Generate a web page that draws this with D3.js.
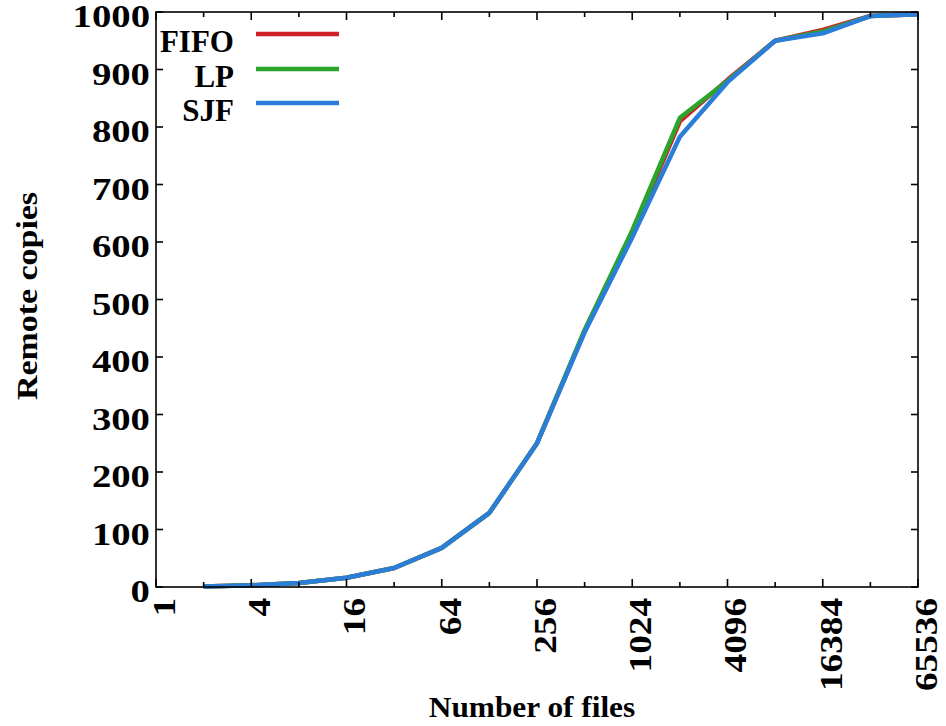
<!DOCTYPE html>
<html>
<head>
<meta charset="utf-8">
<script src="https://cdn.jsdelivr.net/npm/d3@7"></script>
<style>
  html, body { margin: 0; padding: 0; background: #fff; }
  svg { display: block; }
  text { font-family: "Liberation Serif", "Times New Roman", serif; font-weight: bold; fill: #000; }
</style>
</head>
<body>
<svg id="chart" width="946" height="726"></svg>
<script>
// Number of files (powers of two) and remote copies per scheduling policy
const files = [2, 4, 8, 16, 32, 64, 128, 256, 512, 1024, 2048, 4096, 8192, 16384, 32768, 65536];
const fifo  = [1, 3, 7, 16, 33, 68, 129, 250, 445, 615, 810, 882, 950, 969, 993, 996];
const lp    = [1, 3, 7, 16, 33, 68, 129, 250, 447, 620, 816, 880, 950, 966, 993, 996];
const sjf   = [1, 3, 7, 16, 33, 68, 129, 250, 443, 608, 783, 878, 950, 963, 993, 996];

const seriesNames  = ["FIFO", "LP", "SJF"];
const seriesColors = ["#d0202a", "#2aa52a", "#2b7ed8"];
const seriesValues = [fifo, lp, sjf];

const xMajorTicks = [1, 4, 16, 64, 256, 1024, 4096, 16384, 65536];
const xMinorTicks = [2, 8, 32, 128, 512, 2048, 8192, 32768];
const yTicks = [0, 100, 200, 300, 400, 500, 600, 700, 800, 900, 1000];

const svg = d3.select("#chart");
const plotLeft = 156, plotRight = 918, plotTop = 12, plotBottom = 587;

const x = d3.scaleLog().base(2).domain([1, 65536]).range([plotLeft, plotRight]);
const y = d3.scaleLinear().domain([0, 1000]).range([plotBottom, plotTop]);

// Curves
const line = d3.line().x(d => x(d[0])).y(d => y(d[1]));
seriesValues.forEach((vals, i) => {
  svg.append("path")
    .datum(files.map((f, j) => [f, vals[j]]))
    .attr("d", line)
    .attr("fill", "none")
    .attr("stroke", seriesColors[i])
    .attr("stroke-width", 4.5)
    .attr("stroke-linejoin", "round");
});

// Frame
svg.append("rect")
  .attr("x", plotLeft).attr("y", plotTop)
  .attr("width", plotRight - plotLeft).attr("height", plotBottom - plotTop)
  .attr("fill", "none").attr("stroke", "#000").attr("stroke-width", 1.6);

// Inward tick marks on all four sides
const tickG = svg.append("g").attr("stroke", "#000").attr("stroke-width", 1.6);
xMajorTicks.concat(xMinorTicks).forEach(t => {
  const len = xMajorTicks.includes(t) ? 8 : 5;
  tickG.append("line").attr("x1", x(t)).attr("x2", x(t)).attr("y1", plotBottom).attr("y2", plotBottom - len);
  tickG.append("line").attr("x1", x(t)).attr("x2", x(t)).attr("y1", plotTop).attr("y2", plotTop + len);
});
yTicks.forEach(t => {
  tickG.append("line").attr("x1", plotLeft).attr("x2", plotLeft + 7).attr("y1", y(t)).attr("y2", y(t));
  tickG.append("line").attr("x1", plotRight).attr("x2", plotRight - 7).attr("y1", y(t)).attr("y2", y(t));
});

// Y tick labels (wide bold digits)
svg.append("g").selectAll("text").data(yTicks).join("text")
  .attr("transform", d => `translate(150,${y(d) + 5}) scale(1.25,1)`)
  .attr("text-anchor", "end")
  .attr("dominant-baseline", "central")
  .style("font-size", "31px")
  .text(d => d);

// X tick labels, rotated
svg.append("g").selectAll("text").data(xMajorTicks).join("text")
  .attr("transform", d => `translate(${x(d) + 8},598) rotate(-90) scale(1.2,1)`)
  .attr("text-anchor", "end")
  .attr("dominant-baseline", "central")
  .style("font-size", "31px")
  .text(d => d);

// Axis titles
svg.append("text")
  .attr("transform", "translate(27,296) rotate(-90) scale(1.17,1)")
  .attr("text-anchor", "middle")
  .attr("dominant-baseline", "central")
  .style("font-size", "29px")
  .text("Remote copies");

svg.append("text")
  .attr("transform", "translate(532,707) scale(1.08,1)")
  .attr("text-anchor", "middle")
  .attr("dominant-baseline", "central")
  .style("font-size", "29px")
  .text("Number of files");

// Legend
const legendY = [34, 69, 103];
seriesNames.forEach((name, i) => {
  svg.append("text")
    .attr("x", 234).attr("y", legendY[i] + 7)
    .attr("text-anchor", "end")
    .attr("dominant-baseline", "central")
    .style("font-size", "31px")
    .text(name);
  svg.append("line")
    .attr("x1", 256).attr("x2", 339)
    .attr("y1", legendY[i]).attr("y2", legendY[i])
    .attr("stroke", seriesColors[i]).attr("stroke-width", 4.5);
});
</script>
</body>
</html>
